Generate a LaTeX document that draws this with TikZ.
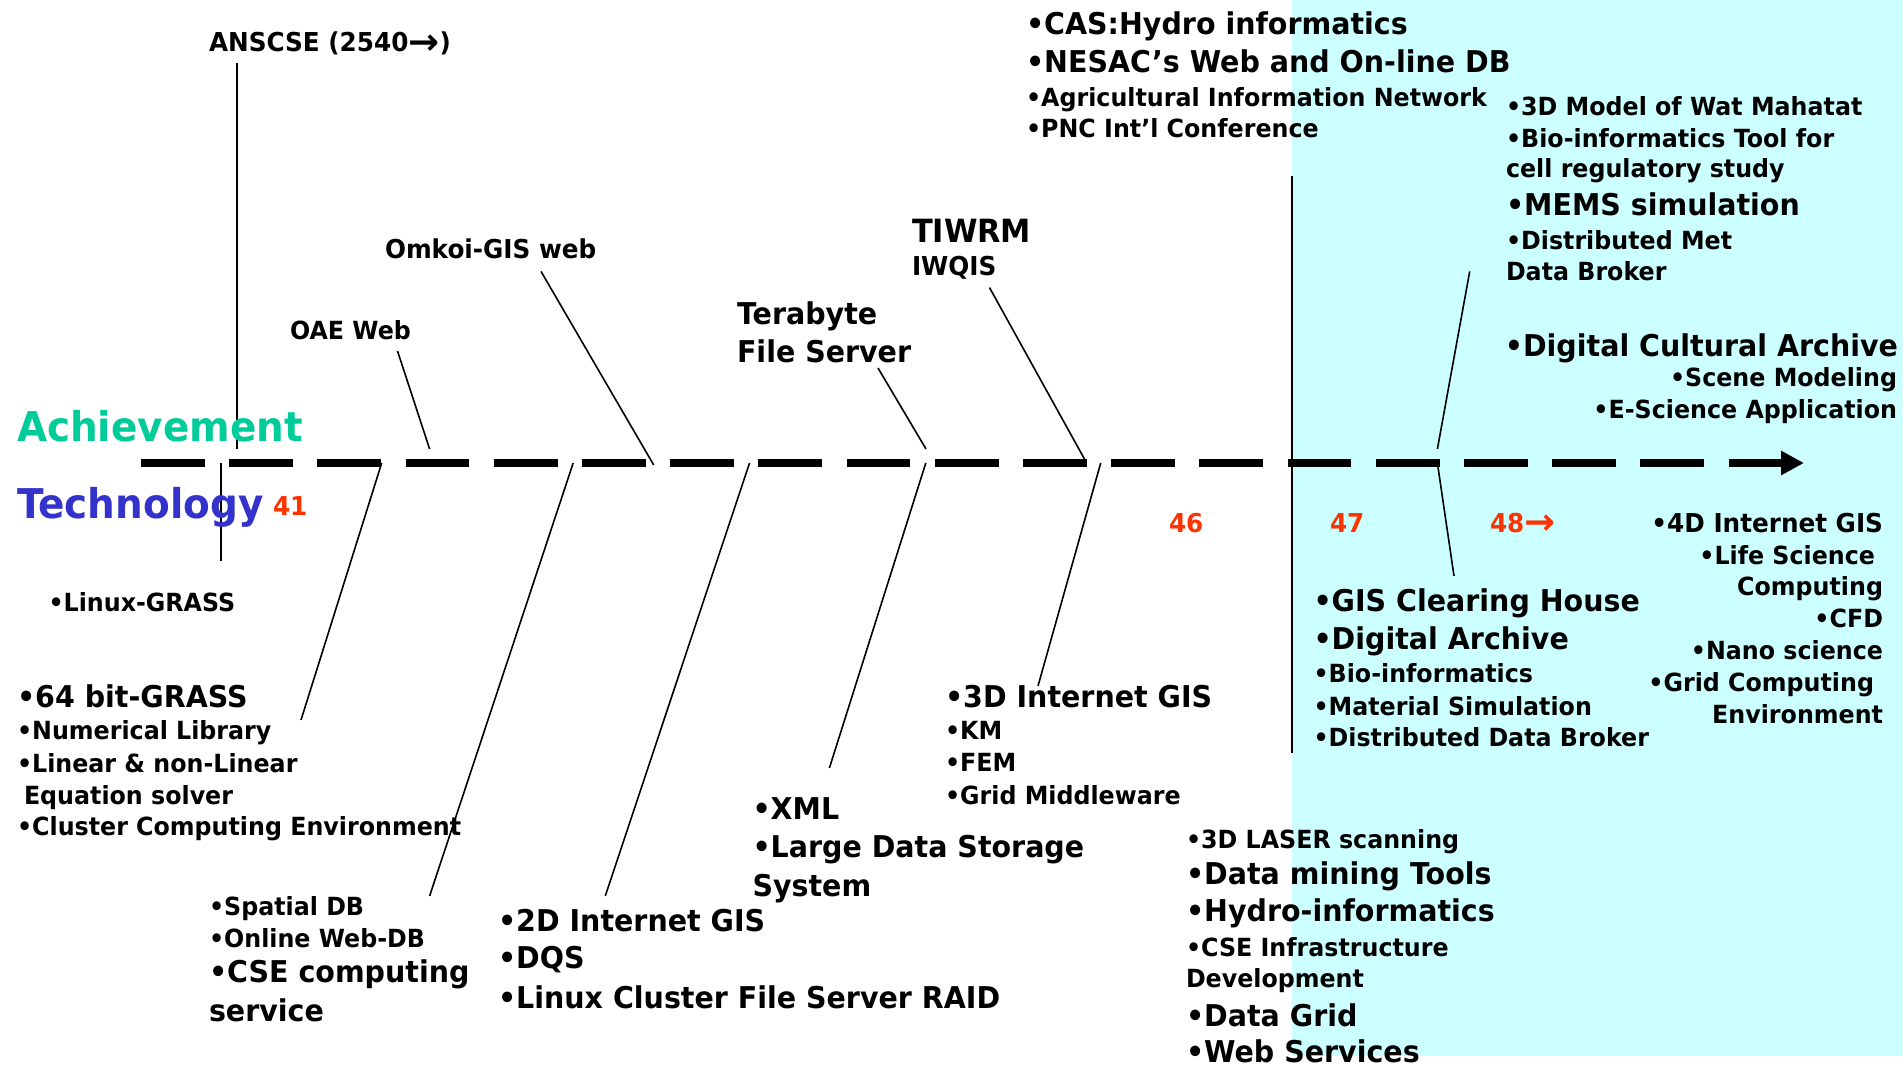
\documentclass[tikz,border=0pt]{standalone}
\usepackage{fontspec}
\setmainfont{DejaVu Sans}[FakeStretch=0.95]
\usetikzlibrary{arrows.meta}
\definecolor{bgcyan}{RGB}{204,255,255}
\definecolor{achgreen}{RGB}{0,204,153}
\definecolor{techblue}{RGB}{51,51,204}
\definecolor{numred}{RGB}{255,51,0}
\newcommand{\fsz}[1]{\fontsize{#1}{#1}\selectfont\bfseries}
\newcommand{\rarr}{\raisebox{-0.1em}{\scalebox{1.5}[1.4]{→}}}
\begin{document}
\begin{tikzpicture}[x=1pt,y=-1pt,
  lt/.style={anchor=base west,inner sep=0pt,outer sep=0pt},
  rt/.style={anchor=base east,inner sep=0pt,outer sep=0pt},
  sm/.style={font=\fsz{25}},
  smc/.style={font=\fsz{26}},
  md/.style={font=\fsz{30}},
  lg/.style={font=\fsz{41}},
  num/.style={font=\fsz{26},text=numred},
  conn/.style={line width=1.6pt,black},
  timeline/.style={line width=7.6pt,dash pattern=on 63.7pt off 24.5pt,-{Triangle[length=23pt,width=23pt]}}]
\useasboundingbox (0,0) rectangle (1903,1067);
\fill[white] (0,0) rectangle (1903,1067);
\fill[bgcyan] (1292,0) rectangle (1903,1056);

% coordinates of connector ends
\coordinate (tlA) at (141,463);
\coordinate (tlB) at (1804,463);
\coordinate (a1) at (237,63);   \coordinate (a2) at (237,449);
\coordinate (b1) at (221,463);  \coordinate (b2) at (221,561);
\coordinate (c1) at (397.5,351);\coordinate (c2) at (429.6,449);
\coordinate (d1) at (541,271.4);\coordinate (d2) at (653.7,465);
\coordinate (e1) at (878,368);  \coordinate (e2) at (926,449);
\coordinate (f1) at (989.5,287.6);\coordinate (f2) at (1085,460);
\coordinate (g1) at (1292,175.6);\coordinate (g2) at (1292,752.6);
\coordinate (h1) at (1469.7,271.4);\coordinate (h2) at (1437.4,449);
\coordinate (p1) at (381.7,463); \coordinate (p2) at (301,720);
\coordinate (q1) at (573.2,463); \coordinate (q2) at (429.6,896);
\coordinate (r1) at (749.5,463); \coordinate (r2) at (605.3,896);
\coordinate (s1) at (925.8,463); \coordinate (s2) at (829.4,768);
\coordinate (t1) at (1100.7,463);\coordinate (t2) at (1038,686);
\coordinate (u1) at (1437.4,463);\coordinate (u2) at (1454,576);

\foreach \m/\n in {a1/a2,b1/b2,c1/c2,d1/d2,e1/e2,f1/f2,g1/g2,h1/h2,p1/p2,q1/q2,r1/r2,s1/s2,t1/t2,u1/u2}
  \draw[conn] (\m) -- (\n);

\draw[timeline] (tlA) -- (tlB);

% labels on the axis
\node[lt,lg,text=achgreen] (ach) at (17,441) {Achievement};
\node[lt,lg,text=techblue] (tech) at (17,518) {Technology};
\node[lt,num] (n41) at (273,515.5) {41};
\node[lt,num] (n46) at (1169,532) {46};
\node[lt,num] (n47) at (1330,532) {47};
\node[lt,num] (n48) at (1490,532) {48\rarr};

% achievements (upper)
\node[lt,smc] (ansc) at (209,52) {ANSCSE (2540\rarr)};
\node[lt,sm] (oae) at (290,339) {OAE Web};
\node[lt,smc] (omk) at (385,259) {Omkoi-GIS web};
\node[lt,md] (tera1) at (737,324) {Terabyte};
\node[lt,md] (tera2) at (737,362) {File Server};
\node[lt,font=\fsz{32}] (tiw1) at (912,243) {TIWRM};
\node[lt,smc] (tiw2) at (912,275.5) {IWQIS};
\node[lt,md] (cas) at (1026,35) {•CAS:Hydro informatics};
\node[lt,md] (nes) at (1026,73) {•NESAC’s Web and On-line DB};
\node[lt,sm] (agr) at (1026,107) {•Agricultural Information Network};
\node[lt,sm] (pnc) at (1026,138) {•PNC Int’l Conference};
\node[lt,sm] (wat) at (1506,115.5) {•3D Model of Wat Mahatat};
\node[lt,sm] (biot) at (1506,147.5) {•Bio-informatics Tool for};
\node[lt,sm] (cell) at (1506,177.5) {cell regulatory study};
\node[lt,md] (mems) at (1506,216) {•MEMS simulation};
\node[lt,sm] (dmet) at (1506,250) {•Distributed Met};
\node[lt,sm] (dbro) at (1506,281) {Data Broker};
\node[rt,md] (dca) at (1898,356.5) {•Digital Cultural Archive};
\node[rt,sm] (scene) at (1897,386.5) {•Scene Modeling};
\node[rt,sm] (esci) at (1897,418.5) {•E-Science Application};

% technologies (lower)
\node[lt,sm] (lgr) at (48.5,611.5) {•Linux-GRASS};
\node[lt,md] (g64) at (17,707) {•64 bit-GRASS};
\node[lt,sm] (numl) at (17,739) {•Numerical Library};
\node[lt,sm] (lin) at (17,772) {•Linear \& non-Linear};
\node[lt,sm] (equ) at (24,804) {Equation solver};
\node[lt,sm] (clu) at (17,835.5) {•Cluster Computing Environment};
\node[lt,sm] (spa) at (209,915) {•Spatial DB};
\node[lt,sm] (onl) at (209,947) {•Online Web-DB};
\node[lt,md] (cse) at (209,982) {•CSE computing};
\node[lt,md] (serv) at (209,1021) {service};
\node[lt,md] (d2) at (498,931) {•2D Internet GIS};
\node[lt,md] (dqs) at (498,968.5) {•DQS};
\node[lt,md] (lcf) at (498,1008) {•Linux Cluster File Server RAID};
\node[lt,md] (xml) at (752.5,819.5) {•XML};
\node[lt,md] (lds) at (752.5,857) {•Large Data Storage};
\node[lt,md] (sys) at (752.5,896) {System};
\node[lt,md] (d3) at (945,707.5) {•3D Internet GIS};
\node[lt,sm] (km) at (945,739.5) {•KM};
\node[lt,sm] (fem) at (945,771.5) {•FEM};
\node[lt,sm] (gm) at (945,804) {•Grid Middleware};
\node[lt,sm] (las) at (1186,848) {•3D LASER scanning};
\node[lt,md] (dmt) at (1186,884.5) {•Data mining Tools};
\node[lt,md] (hyd) at (1186,921.5) {•Hydro-informatics};
\node[lt,sm] (csei) at (1186,956.5) {•CSE Infrastructure};
\node[lt,sm] (dev) at (1186,987) {Development};
\node[lt,md] (dgr) at (1186,1026.5) {•Data Grid};
\node[lt,md] (web) at (1186,1062.5) {•Web Services};
\node[lt,md] (gis) at (1313.5,611) {•GIS Clearing House};
\node[lt,md] (dar) at (1313.5,649) {•Digital Archive};
\node[lt,sm] (bioi) at (1313.5,682) {•Bio-informatics};
\node[lt,sm] (mat) at (1313.5,715) {•Material Simulation};
\node[lt,sm] (ddb) at (1313.5,746.5) {•Distributed Data Broker};
\node[rt,smc] (d4) at (1883,532) {•4D Internet GIS};
\node[rt,sm] (life) at (1875,564) {•Life Science};
\node[rt,sm] (comp) at (1883,595) {Computing};
\node[rt,sm] (cfd) at (1883,627) {•CFD};
\node[rt,sm] (nano) at (1883,659.5) {•Nano science};
\node[rt,sm] (gridc) at (1874,691) {•Grid Computing};
\node[rt,sm] (env) at (1883,723.5) {Environment};
\end{tikzpicture}
\end{document}
